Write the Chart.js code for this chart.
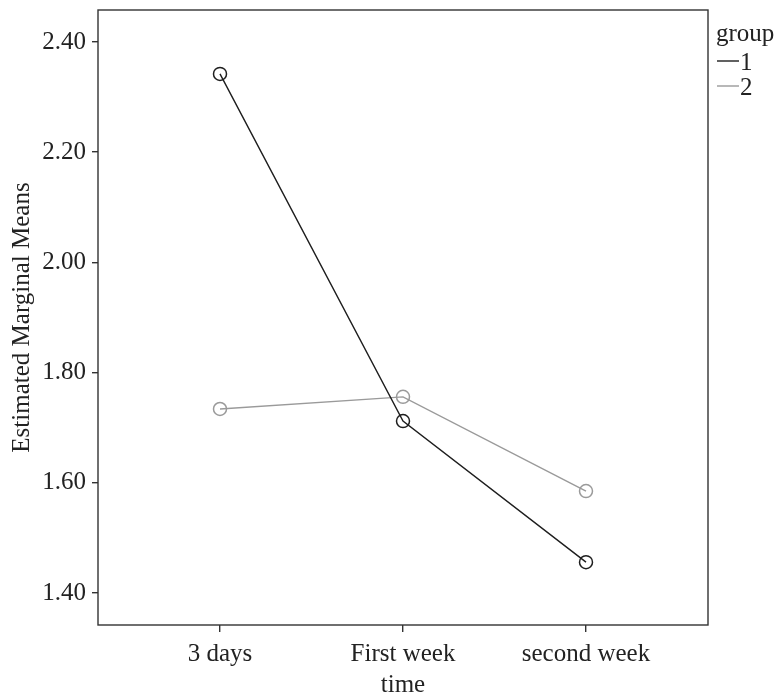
<!DOCTYPE html>
<html>
<head>
<meta charset="utf-8">
<script src="https://cdn.jsdelivr.net/npm/chart.js@4"></script>
<style>
  html, body { margin: 0; padding: 0; background: #fff; }
  #wrap { width: 778px; height: 696px; }
</style>
</head>
<body>
<div id="wrap"><canvas id="meansChart" width="778" height="696"></canvas></div>
<script>
const timeLabels = ['3 days', 'First week', 'second week'];
const group1Means = [2.342, 1.712, 1.456];
const group2Means = [1.734, 1.756, 1.585];
const yTicks = [1.40, 1.60, 1.80, 2.00, 2.20, 2.40];
const groupNames = ['1', '2'];
const groupColors = ['#1e1e1e', '#9a9a9a'];

const serif = '"Liberation Serif", "DejaVu Serif", serif';

function toPoints(values) {
  return values.map((v, i) => ({ x: i, y: v }));
}

// frame around the plot plus the "group" legend on the right
const framePlugin = {
  id: 'frame',
  afterDraw(chart) {
    const ctx = chart.ctx;
    const a = chart.chartArea;
    ctx.save();
    ctx.strokeStyle = '#333';
    ctx.lineWidth = 1.4;
    ctx.strokeRect(a.left, a.top, a.right - a.left, a.bottom - a.top);

    ctx.font = '25px ' + serif;
    ctx.fillStyle = '#222';
    ctx.textBaseline = 'alphabetic';
    ctx.fillText('group', a.right + 8, 41);
    groupNames.forEach((name, i) => {
      const y = 61 + i * 25;
      ctx.strokeStyle = groupColors[i];
      ctx.lineWidth = 1.4;
      ctx.beginPath();
      ctx.moveTo(a.right + 9, y);
      ctx.lineTo(a.right + 31, y);
      ctx.stroke();
      ctx.fillStyle = '#222';
      ctx.fillText(name, a.right + 32, y + 9);
    });
    ctx.restore();
  }
};

function makeDataset(label, values, color) {
  return {
    label: label,
    data: toPoints(values),
    borderColor: color,
    borderWidth: 1.4,
    pointRadius: 6.5,
    pointHoverRadius: 6.5,
    pointBorderWidth: 1.5,
    pointBorderColor: color,
    pointBackgroundColor: 'rgba(0,0,0,0)',
    tension: 0
  };
}

window.addEventListener('DOMContentLoaded', () => {
  const ctx = document.getElementById('meansChart').getContext('2d');
  new Chart(ctx, {
    type: 'line',
    data: {
      datasets: [
        makeDataset(groupNames[0], group1Means, groupColors[0]),
        makeDataset(groupNames[1], group2Means, groupColors[1])
      ]
    },
    options: {
      responsive: false,
      animation: false,
      layout: { padding: { top: 10, right: 70, left: 0, bottom: 0 } },
      plugins: {
        legend: { display: false },
        tooltip: { enabled: false }
      },
      scales: {
        x: {
          type: 'linear',
          min: -2 / 3,
          max: 2 + 2 / 3,
          afterBuildTicks(scale) {
            scale.ticks = timeLabels.map((_, i) => ({ value: i }));
          },
          afterFit(scale) {
            scale.height = 71;
            scale.paddingLeft = 0;
            scale.paddingRight = 0;
          },
          ticks: {
            callback: v => timeLabels[v],
            color: '#222',
            font: { family: serif, size: 25 },
            padding: 7,
            maxRotation: 0
          },
          grid: { drawOnChartArea: false, drawTicks: true, tickLength: 7, color: '#333', lineWidth: 1.4 },
          border: { display: false },
          title: {
            display: true,
            text: 'time',
            color: '#222',
            font: { family: serif, size: 25 },
            padding: { top: 0, bottom: -4 }
          }
        },
        y: {
          min: 1.342,
          max: 2.458,
          afterBuildTicks(scale) {
            scale.ticks = yTicks.map(v => ({ value: v }));
          },
          afterFit(scale) {
            scale.width = 98;
            scale.paddingTop = 0;
            scale.paddingBottom = 0;
          },
          ticks: {
            callback: v => v.toFixed(2),
            color: '#222',
            font: { family: serif, size: 25 },
            padding: 6
          },
          grid: { drawOnChartArea: false, drawTicks: true, tickLength: 6, color: '#333', lineWidth: 1.4 },
          border: { display: false },
          title: {
            display: true,
            text: 'Estimated Marginal Means',
            color: '#222',
            font: { family: serif, size: 25 },
            padding: { top: 7, bottom: 0 }
          }
        }
      }
    },
    plugins: [framePlugin]
  });
});
</script>
</body>
</html>
